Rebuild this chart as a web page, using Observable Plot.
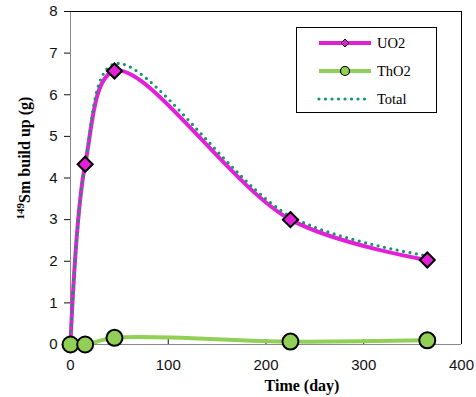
<!DOCTYPE html>
<html><head><meta charset="utf-8">
<script src="https://cdn.jsdelivr.net/npm/d3@7"></script>
<script src="https://cdn.jsdelivr.net/npm/@observablehq/plot@0.6"></script>
<style>body{margin:0;background:#fff}</style>
</head><body><div id="chart"></div>
<script>
const days = [0, 15, 45, 225, 365];
const uo2 = [0, 4.33, 6.57, 3.0, 2.03];
const tho2 = [0, 0.0, 0.16, 0.07, 0.1];
const total = [0, 4.33, 6.74, 3.08, 2.13];
const xTicks = [0, 100, 200, 300, 400];
const yTicks = [0, 1, 2, 3, 4, 5, 6, 7, 8];
const seriesNames = ["UO2", "ThO2", "Total"];

const mag = "#e41fd8", grn = "#92cf57", tot = "#14966a";
const rows = (vals) => days.map((d, i) => ({x: d, y: vals[i]}));
const U = rows(uo2), T = rows(tho2), S = rows(total);

const plot = Plot.plot({
  width: 476, height: 397,
  marginLeft: 70, marginRight: 15, marginTop: 11, marginBottom: 53,
  style: {fontFamily: "Liberation Sans", fontSize: "15px", color: "#111", background: "#fff"},
  x: {domain: [0, 400], ticks: xTicks, label: null, tickSize: -5, tickPadding: 20},
  y: {domain: [0, 8], ticks: yTicks, label: null, tickSize: 6, tickPadding: 7},
  marks: [
    Plot.ruleX([0], {stroke: "#888"}),
    Plot.ruleY([0], {stroke: "#888"}),
    Plot.ruleX([400], {stroke: "#000"}),
    Plot.ruleY([8], {stroke: "#000"}),
    Plot.line(U, {x: "x", y: "y", stroke: mag, strokeWidth: 4, curve: "catmull-rom"}),
    Plot.line(T, {x: "x", y: "y", stroke: grn, strokeWidth: 4, curve: "catmull-rom"}),
    Plot.line(S, {x: "x", y: "y", stroke: tot, strokeWidth: 3.2, strokeDasharray: "0,6.5", strokeLinecap: "round", curve: "catmull-rom"}),
    Plot.dot(U, {x: "x", y: "y", symbol: "diamond2", r: 6.8, fill: mag, stroke: "#000", strokeWidth: 2}),
    Plot.dot(T, {x: "x", y: "y", symbol: "circle", r: 8, fill: grn, stroke: "#000", strokeWidth: 2})
  ]
});
document.getElementById("chart").appendChild(plot);

const svg = d3.select(plot);
// axis titles
const yl = svg.append("text")
  .attr("transform", "translate(28,158) rotate(-90)")
  .attr("text-anchor", "middle")
  .style("font-family", "Liberation Serif").style("font-weight", "bold").style("font-size", "16px").style("fill", "#000");
yl.append("tspan").attr("dy", "-0.4em").style("font-size", "11px").text("149");
yl.append("tspan").attr("dy", "0.4em").text("Sm build up (g)");
svg.append("text").attr("x", 302).attr("y", 391).attr("text-anchor", "middle")
  .style("font-family", "Liberation Serif").style("font-weight", "bold").style("font-size", "16px").style("fill", "#000")
  .text("Time (day)");

// legend
const lg = svg.append("g").attr("text-anchor", "start");
lg.append("rect").attr("x", 296.5).attr("y", 27.5).attr("width", 140).attr("height", 85)
  .attr("fill", "#fff").attr("stroke", "#000");
const ly = [43, 71, 99];
const styles = [
  {stroke: mag, w: 4, dash: null},
  {stroke: grn, w: 4, dash: null},
  {stroke: tot, w: 3.2, dash: "0,6.5"}
];
seriesNames.forEach((n, i) => {
  const l = lg.append("line").attr("x1", 319).attr("x2", 371).attr("y1", ly[i]).attr("y2", ly[i])
    .attr("stroke", styles[i].stroke).attr("stroke-width", styles[i].w).attr("stroke-linecap", styles[i].dash ? "round" : "butt");
  if (styles[i].dash) l.attr("stroke-dasharray", styles[i].dash);
  lg.append("text").attr("x", 377).attr("y", ly[i] + 5).attr("text-anchor", "start").text(n)
    .style("font-family", "Liberation Serif").style("font-size", "14.5px").style("fill", "#000");
});
lg.append("path").attr("d", d3.symbol(d3.symbolDiamond2, 40)()).attr("transform", `translate(345,${ly[0]})`)
  .attr("fill", mag).attr("stroke", "#000").attr("stroke-width", 1);
lg.append("circle").attr("cx", 345).attr("cy", ly[1]).attr("r", 4.5).attr("fill", grn).attr("stroke", "#000").attr("stroke-width", 1.2);
</script></body></html>
